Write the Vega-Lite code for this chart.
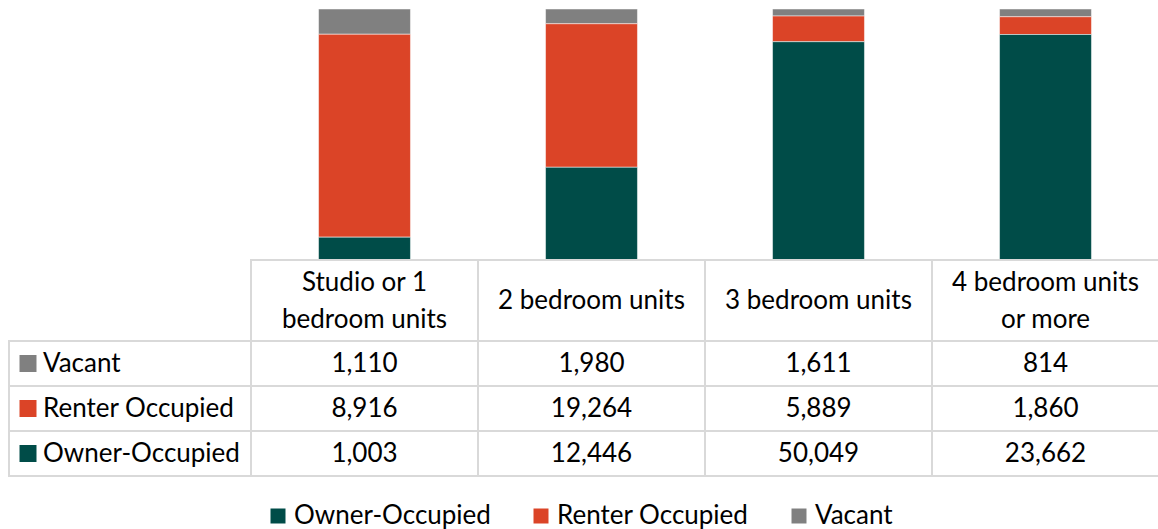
{
  "$schema": "https://vega.github.io/schema/vega-lite/v6.json",
  "padding": {"left": 8, "top": 8, "right": 0, "bottom": 0},
  "config": {"view": {"stroke": null}, "font": "Lato", "text": {"font": "Lato"}},
  "columns": 2,
  "spacing": 0,
  "bounds": "flush",
  "datasets": {
    "main": [
      {"unit": "Studio or 1\nbedroom units", "status": "Vacant", "count": 1110},
      {"unit": "Studio or 1\nbedroom units", "status": "Renter Occupied", "count": 8916},
      {"unit": "Studio or 1\nbedroom units", "status": "Owner-Occupied", "count": 1003},
      {"unit": "2 bedroom units", "status": "Vacant", "count": 1980},
      {"unit": "2 bedroom units", "status": "Renter Occupied", "count": 19264},
      {"unit": "2 bedroom units", "status": "Owner-Occupied", "count": 12446},
      {"unit": "3 bedroom units", "status": "Vacant", "count": 1611},
      {"unit": "3 bedroom units", "status": "Renter Occupied", "count": 5889},
      {"unit": "3 bedroom units", "status": "Owner-Occupied", "count": 50049},
      {"unit": "4 bedroom units\nor more", "status": "Vacant", "count": 814},
      {"unit": "4 bedroom units\nor more", "status": "Renter Occupied", "count": 1860},
      {"unit": "4 bedroom units\nor more", "status": "Owner-Occupied", "count": 23662}
    ]
  },
  "resolve": {"scale": {"color": "shared"}},
  "concat": [
    {
      "width": 242, "height": 251,
      "data": {"values": [{}]},
      "mark": {"type": "rect", "opacity": 0},
      "encoding": {}
    },
    {
      "width": 908, "height": 251,
      "data": {"name": "main"},
      "mark": {"type": "bar", "width": {"band": 0.405}, "stroke": "#ffffff", "strokeWidth": 0.5},
      "encoding": {
        "x": {"field": "unit", "type": "nominal", "sort": null, "axis": null,
              "scale": {"domain": ["Studio or 1\nbedroom units", "2 bedroom units", "3 bedroom units", "4 bedroom units\nor more"], "paddingInner": 0, "paddingOuter": 0}},
        "y": {"field": "count", "type": "quantitative", "stack": "normalize", "axis": null},
        "color": {"field": "status", "type": "nominal",
                  "scale": {"domain": ["Owner-Occupied", "Renter Occupied", "Vacant"], "range": ["#004C48", "#DB4427", "#808080"]},
                  "legend": {"orient": "none", "direction": "horizontal", "legendX": 256, "legendY": 494, "title": null,
                             "symbolType": "square", "symbolSize": 225, "symbolStrokeWidth": 0, "symbolOpacity": 1,
                             "labelFontSize": 26, "labelLimit": 400, "labelColor": "#000000", "labelFont": "Lato", "columnPadding": 37, "labelOffset": 3}},
        "order": {"field": "status", "type": "nominal", "sort": "ascending"}
      }
    },
    {
      "width": 242, "height": 81,
      "data": {"values": [{}]},
      "mark": {"type": "rect", "opacity": 0},
      "encoding": {}
    },
    {
      "width": 908, "height": 81,
      "data": {"name": "main"},
      "transform": [{"filter": "datum.status === 'Vacant'"}],
      "encoding": {
        "x": {"field": "unit", "type": "nominal", "sort": null, "axis": null,
              "scale": {"domain": ["Studio or 1\nbedroom units", "2 bedroom units", "3 bedroom units", "4 bedroom units\nor more"], "paddingInner": 0, "paddingOuter": 0}}
      },
      "layer": [
        {"mark": {"type": "rect", "fill": "#ffffff", "stroke": "#D9D9D9", "strokeWidth": 2}},
        {"transform": [{"filter": "indexof(datum.unit, '\\n') < 0"}],
         "mark": {"type": "text", "fontSize": 26, "color": "#000000", "baseline": "middle"},
         "encoding": {"text": {"field": "unit"}}},
        {"transform": [{"filter": "indexof(datum.unit, '\\n') >= 0"}],
         "mark": {"type": "text", "fontSize": 26, "lineBreak": "\n", "lineHeight": 37, "color": "#000000", "baseline": "middle", "dy": -18},
         "encoding": {"text": {"field": "unit"}}}
      ]
    },
    {
      "width": 242, "height": 135,
      "data": {"name": "main"},
      "transform": [{"filter": "datum.unit === '2 bedroom units'"}],
      "encoding": {
        "y": {"field": "status", "type": "nominal", "axis": null,
              "scale": {"domain": ["Vacant", "Renter Occupied", "Owner-Occupied"], "paddingInner": 0, "paddingOuter": 0}}
      },
      "layer": [
        {"mark": {"type": "rect", "fill": "#ffffff", "stroke": "#D9D9D9", "strokeWidth": 2}},
        {"mark": {"type": "point", "shape": "square", "size": 289, "filled": true, "opacity": 1, "x": 19},
         "encoding": {"color": {"field": "status", "type": "nominal", "legend": null,
                                "scale": {"domain": ["Owner-Occupied", "Renter Occupied", "Vacant"], "range": ["#004C48", "#DB4427", "#808080"]}}}},
        {"mark": {"type": "text", "align": "left", "fontSize": 26, "color": "#000000", "x": 34, "baseline": "middle"},
         "encoding": {"text": {"field": "status"}}}
      ]
    },
    {
      "width": 908, "height": 135,
      "data": {"name": "main"},
      "encoding": {
        "x": {"field": "unit", "type": "nominal", "sort": null, "axis": null,
              "scale": {"domain": ["Studio or 1\nbedroom units", "2 bedroom units", "3 bedroom units", "4 bedroom units\nor more"], "paddingInner": 0, "paddingOuter": 0}},
        "y": {"field": "status", "type": "nominal", "axis": null,
              "scale": {"domain": ["Vacant", "Renter Occupied", "Owner-Occupied"], "paddingInner": 0, "paddingOuter": 0}}
      },
      "layer": [
        {"mark": {"type": "rect", "fill": "#ffffff", "stroke": "#D9D9D9", "strokeWidth": 2}},
        {"mark": {"type": "text", "fontSize": 26, "color": "#000000", "baseline": "middle"},
         "encoding": {"text": {"field": "count", "type": "quantitative", "format": ","}}}
      ]
    }
  ]
}
